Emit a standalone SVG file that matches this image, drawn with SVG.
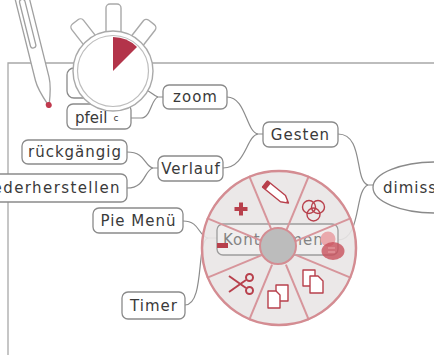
<svg xmlns="http://www.w3.org/2000/svg" width="434" height="355" viewBox="0 0 434 355">
  <style>
    .frame { fill: none; stroke: #a8a8a8; stroke-width: 1.3; }
    .conn path { fill: none; stroke: #8c8c8c; stroke-width: 1.2; }
    .box { fill: #fff; stroke: #8a8a8a; stroke-width: 1.3; }
    .lbl { font-family: "DejaVu Sans", sans-serif; font-size: 15px; letter-spacing: 1px; fill: #3a3a3a; text-anchor: middle; }
    .watch { fill: #fff; stroke: #a9a9a9; stroke-width: 1.4; }
    .pen { fill: #fff; stroke: #a0a0a0; stroke-width: 1.3; stroke-linejoin: round; }
    .spoke { stroke: #d7959b; stroke-width: 2; }
    .ico { fill: #b8404c; }
    .ico-line { fill: #fff; stroke: #b8404c; stroke-width: 1.4; stroke-linejoin: round; }
  </style>

  <!-- canvas frame -->
  <path class="frame" d="M8,355 V63 H434"/>

  <!-- stylus -->
  <g id="stylus" transform="translate(49,106) rotate(-14)">
    <path class="pen" d="M-7,-125 L-7,-28 C-7,-18 -3,-8 0,0 C3,-8 7,-18 7,-28 L7,-125"/>
    <rect class="pen" x="-3.5" y="-110" width="5.5" height="50" rx="2.7"/>
    <circle cx="0" cy="-1" r="3" fill="#c0394d"/>
  </g>

  <!-- connectors -->
  <g class="conn" id="connectors">
    <path d="M131,118 H141 C151,118 151,99 158,97 H163"/>
    <path d="M158,97 C150,95 150,83 107,83"/>
    <path d="M227,97 C246,97 246,132 258,134 H263"/>
    <path d="M223,168 C246,168 246,136 258,134"/>
    <path d="M127,152 C146,152 144,166 153,168 H158"/>
    <path d="M127,188 C146,188 144,170 153,168"/>
    <path d="M338,134 C364,134 354,181 368,185 H373"/>
    <path d="M368,185 C354,190 362,239 338,240"/>
    <path d="M183,221 C200,221 198,236 208,238 H217"/>
    <path d="M185,305 C205,305 196,241 208,238"/>
  </g>

  <!-- nodes -->
  <g id="node-hidden"><rect class="box" x="67" y="68" width="44" height="30" rx="7"/></g>
  <g id="node-pfeil">
    <rect class="box" x="67" y="104" width="64" height="25" rx="6"/>
    <text class="lbl" x="75" y="123" style="text-anchor:start;letter-spacing:0">pfeil<tspan font-size="9" dx="6" dy="-2">c</tspan></text>
  </g>
  <g id="node-zoom">
    <rect class="box" x="163" y="85" width="64" height="24" rx="6"/>
    <text class="lbl" x="195.5" y="102">zoom</text>
  </g>
  <g id="node-gesten">
    <rect class="box" x="263" y="122" width="75" height="25" rx="6"/>
    <text class="lbl" x="300.5" y="139.5">Gesten</text>
  </g>
  <g id="node-verlauf">
    <rect class="box" x="158" y="156" width="65" height="25" rx="6"/>
    <text class="lbl" x="191" y="173.5">Verlauf</text>
  </g>
  <g id="node-rueckgaengig">
    <rect class="box" x="22" y="140" width="105" height="24" rx="6"/>
    <text class="lbl" x="75" y="157">rückgängig</text>
  </g>
  <g id="node-wiederherstellen">
    <rect class="box" x="-12" y="174" width="139" height="28" rx="6"/>
    <text class="lbl" x="121" y="193" style="text-anchor:end;letter-spacing:1.4px">wiederherstellen</text>
  </g>
  <g id="node-piemenu">
    <rect class="box" x="93" y="208" width="90" height="25" rx="6"/>
    <text class="lbl" x="138.5" y="226">Pie Menü</text>
  </g>
  <g id="node-timer">
    <rect class="box" x="122" y="292" width="63" height="27" rx="6"/>
    <text class="lbl" x="154" y="311">Timer</text>
  </g>
  <g id="node-dimiss">
    <ellipse class="box" cx="436" cy="187.5" rx="63" ry="25.5"/>
    <text class="lbl" x="383" y="193" style="text-anchor:start">dimiss</text>
  </g>

  <!-- pie menu -->
  <g id="pie-menu">
    <circle cx="279" cy="248" r="78" fill="#e9e5e5" fill-opacity="0.9"/>
    <g id="node-kontextmenue" opacity="0.8">
      <rect class="box" x="217" y="224" width="121" height="31" rx="6" fill-opacity="0.35"/>
      <text class="lbl" x="223" y="245" style="text-anchor:start;fill:#6a6a6a">Kontextmenü</text>
    </g>
    <g class="spoke">
      <line x1="295.6" y1="241.1" x2="351.1" y2="218.2"/>
      <line x1="295.6" y1="254.9" x2="351.1" y2="277.9"/>
      <line x1="285.9" y1="264.6" x2="308.9" y2="320.1"/>
      <line x1="272.1" y1="264.6" x2="249.1" y2="320.1"/>
      <line x1="262.4" y1="254.9" x2="206.9" y2="277.9"/>
      <line x1="262.4" y1="241.1" x2="206.9" y2="218.2"/>
      <line x1="272.1" y1="231.4" x2="249.1" y2="175.9"/>
      <line x1="285.9" y1="231.4" x2="308.9" y2="175.9"/>
    </g>
    <circle cx="279" cy="248" r="77" fill="none" stroke="#d48c92" stroke-width="2.5"/>
    <circle cx="278" cy="246" r="18" fill="#bcbcbc" stroke="#d48c92" stroke-width="2"/>

    <!-- add -->
    <rect class="ico" x="234.5" y="207" width="13" height="4"/>
    <rect class="ico" x="239" y="202.5" width="4" height="13"/>
    <!-- edit -->
    <g transform="rotate(39 276 193)">
      <path class="ico-line" d="M262,189 H285 L292,193 L285,197 H262 Z"/>
      <rect class="ico" x="261" y="189" width="5" height="8"/>
      <path class="ico" d="M289.5,191.6 L292,193 L289.5,194.4 Z"/>
    </g>
    <!-- combine -->
    <g fill="none" stroke="#b8404c" stroke-width="1.4">
      <circle cx="309" cy="207" r="6.5"/>
      <circle cx="318" cy="207" r="6.5"/>
      <circle cx="313.5" cy="214.5" r="6.5"/>
    </g>
    <!-- stack -->
    <circle cx="328" cy="239" r="7.5" fill="#eaa9ad"/>
    <ellipse cx="333" cy="251" rx="11.5" ry="9" fill="#c8505b" fill-opacity="0.8"/>
    <path d="M328,248 h7 M328,252 h7" stroke="#e9a3a8" stroke-width="1.2"/>
    <!-- copy -->
    <rect class="ico-line" x="303" y="270" width="12" height="16"/>
    <path class="ico-line" d="M310,276 H318 L323,281 V293 H310 Z"/>
    <!-- pages -->
    <rect class="ico-line" x="276" y="285" width="12" height="16"/>
    <path class="ico-line" d="M268,291 H276 L280,295 V308 H268 Z"/>
    <!-- cut -->
    <g stroke="#b8404c" stroke-width="2" fill="none">
      <path d="M229,276 L246,288"/>
      <path d="M229,292 L246,280"/>
      <circle cx="249.5" cy="290.5" r="3.5"/>
      <circle cx="249.5" cy="277.5" r="3.5"/>
    </g>
    <!-- remove -->
    <rect class="ico" x="217" y="243" width="11" height="5"/>
  </g>

  <!-- stopwatch -->
  <g id="stopwatch">
    <rect class="watch" x="106" y="9" width="15" height="34" rx="4" transform="rotate(-38 113 71)"/>
    <rect class="watch" x="106" y="9" width="15" height="34" rx="4" transform="rotate(38 113 71)"/>
    <rect class="watch" x="106" y="4" width="15" height="34" rx="4"/>
    <circle class="watch" cx="113" cy="71" r="40"/>
    <circle cx="113" cy="71" r="35.5" fill="none" stroke="#bdbdbd" stroke-width="1.2"/>
    <path d="M113,71 L113,37 A34,34 0 0 1 137,47 Z" fill="#b3344a"/>
  </g>
</svg>
